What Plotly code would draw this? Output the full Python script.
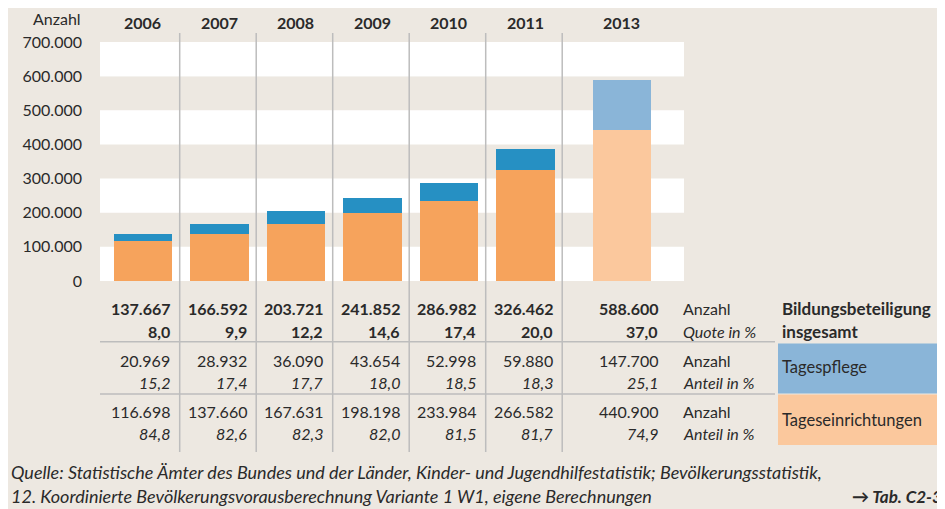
import plotly.graph_objects as go

# ---------------- data ----------------
years = ["2006", "2007", "2008", "2009", "2010", "2011", "2013"]
# table values
tageseinrichtungen = [116698, 137660, 167631, 198198, 233984, 266582, 440900]
tagespflege = [20969, 28932, 36090, 43654, 52998, 59880, 147700]
gesamt = [137667, 166592, 203721, 241852, 286982, 326462, 588600]
quote = ["8,0", "9,9", "12,2", "14,6", "17,4", "20,0", "37,0"]
anteil_pflege = ["15,2", "17,4", "17,7", "18,0", "18,5", "18,3", "25,1"]
anteil_einr = ["84,8", "82,6", "82,3", "82,0", "81,5", "81,7", "74,9"]
# bar heights as drawn in the chart (2011 bar is drawn from the total)
bar_einr = [116698, 137660, 167631, 198198, 233984, 326462, 440900]
bar_pflege = [20969, 28932, 36090, 43654, 52998, 59880, 147700]
y_ticks = [0, 100000, 200000, 300000, 400000, 500000, 600000, 700000]

def de(n):
    return f"{n:,}".replace(",", ".")

# ---------------- layout helpers ----------------
OFF = 8  # default page body margin
W, H = 945 - OFF, 509 - OFF
PL, PR, PT, PB = 100, 684, 42, 281  # plot area in window pixels
xpos = [0, 1, 2, 3, 4, 5, 6.26]
XR = [-0.562, 7.072]

def py(p):  # window pixel y -> paper
    return (PB - p) / (PB - PT)

def px(p):  # window pixel x -> paper
    return (p - PL) / (PR - PL)

BG = "#EDE8E1"
TXT = "#2a2a2a"
FONT = "Lato"
c_or = ["#F6A35C"] * 6 + ["#FBC89D"]
c_bl = ["#2690C3"] * 6 + ["#8AB5D8"]

fig = go.Figure()
fig.add_bar(x=xpos, y=bar_einr, marker=dict(color=c_or, line=dict(width=0)),
            width=0.76, name="Tageseinrichtungen")
fig.add_bar(x=xpos, y=bar_pflege, marker=dict(color=c_bl, line=dict(width=0)),
            width=0.76, name="Tagespflege")

shapes = []
# white bands
for lo in range(0, 700000, 200000):
    shapes.append(dict(type="rect", xref="paper", yref="y", x0=0, x1=1, y0=lo, y1=lo + 100000,
                       fillcolor="white", line=dict(width=0), layer="below"))
shapes.append(dict(type="rect", xref="paper", yref="y", x0=0, x1=1, y0=600000, y1=700000,
                   fillcolor="white", line=dict(width=0), layer="below"))
# vertical separators
for i in range(6):
    shapes.append(dict(type="line", xref="x", yref="paper", x0=i + 0.48, x1=i + 0.48,
                       y0=py(452), y1=py(33), line=dict(color="#BDBDBD", width=1.5), layer="above"))
# horizontal table lines
for yy in (341.7, 394):
    shapes.append(dict(type="line", xref="paper", yref="paper", x0=px(100), x1=px(775),
                       y0=py(yy), y1=py(yy), line=dict(color="#BDBDBD", width=1.5)))
# legend boxes
shapes.append(dict(type="rect", xref="paper", yref="paper", x0=px(778), x1=px(937),
                   y0=py(393.5), y1=py(343.5), fillcolor="#8AB5D8", line=dict(width=0)))
shapes.append(dict(type="rect", xref="paper", yref="paper", x0=px(778), x1=px(937),
                   y0=py(445), y1=py(394.5), fillcolor="#FBC89D", line=dict(width=0)))

ann = []
def A(text, x, y, xref="paper", xanchor="center", size=16, **kw):
    ann.append(dict(text=text, x=x, y=y, xref=xref, yref="paper", xanchor=xanchor,
                    yanchor="middle", showarrow=False,
                    font=dict(family=FONT, size=size, color=TXT), **kw))

# year headers
for yr, xp in zip(years, xpos):
    A(f"<b>{yr}</b>", xp, py(23), xref="x")
A("Anzahl", px(83), py(19), xanchor="right")

# table values
for i, xp in enumerate(xpos):
    xr = xp + (0.38 if i < 6 else 0.5)
    A(f"<b>{de(gesamt[i])}</b>", xr, py(308), xref="x", xanchor="right")
    A(f"<b>{quote[i]}</b>", xr, py(331), xref="x", xanchor="right")
    A(de(tagespflege[i]), xr, py(360), xref="x", xanchor="right")
    A(f"<i>{anteil_pflege[i]}</i>", xr, py(382), xref="x", xanchor="right")
    A(de(tageseinrichtungen[i]), xr, py(411), xref="x", xanchor="right")
    A(f"<i>{anteil_einr[i]}</i>", xr, py(433), xref="x", xanchor="right")

for t, yy in (("Anzahl", 308), ("<i>Quote in %</i>", 331), ("Anzahl", 360),
              ("<i>Anteil in %</i>", 382), ("Anzahl", 411), ("<i>Anteil in %</i>", 433)):
    A(t, px(681), py(yy), xanchor="left")

A("<b>Bildungsbeteiligung</b>", px(780), py(308), xanchor="left", size=17)
A("<b>insgesamt</b>", px(780), py(331), xanchor="left", size=17)
A("Tagespflege", px(780), py(367), xanchor="left", size=16.5)
A("Tageseinrichtungen", px(780), py(420), xanchor="left", size=16.5)

A("<i>Quelle: Statistische Ämter des Bundes und der Länder, Kinder- und Jugendhilfestatistik; Bevölkerungsstatistik,</i>",
  px(9), py(472), xanchor="left", size=18)
A("<i>12. Koordinierte Bevölkerungsvorausberechnung Variante 1 W1, eigene Berechnungen</i>",
  px(9), py(496), xanchor="left", size=18)
A("<b><i>→ Tab. C2-3A</i></b>", px(850), py(496), xanchor="left", size=17)

fig.update_layout(
    width=W, height=H, barmode="stack", bargap=0,
    margin=dict(l=PL - OFF, r=945 - PR, t=PT - OFF, b=509 - PB, pad=0),
    paper_bgcolor=BG, plot_bgcolor=BG, showlegend=False,
    separators=",.",
    shapes=shapes, annotations=ann,
    xaxis=dict(range=XR, showticklabels=False, showgrid=False, zeroline=False, fixedrange=True),
    yaxis=dict(range=[0, 700000], tickvals=y_ticks, ticktext=[de(v) for v in y_ticks],
               showgrid=False, zeroline=False, ticks="", ticklabelstandoff=17,
               tickfont=dict(family=FONT, size=16, color=TXT)),
)

fig.write_html("out.html")
